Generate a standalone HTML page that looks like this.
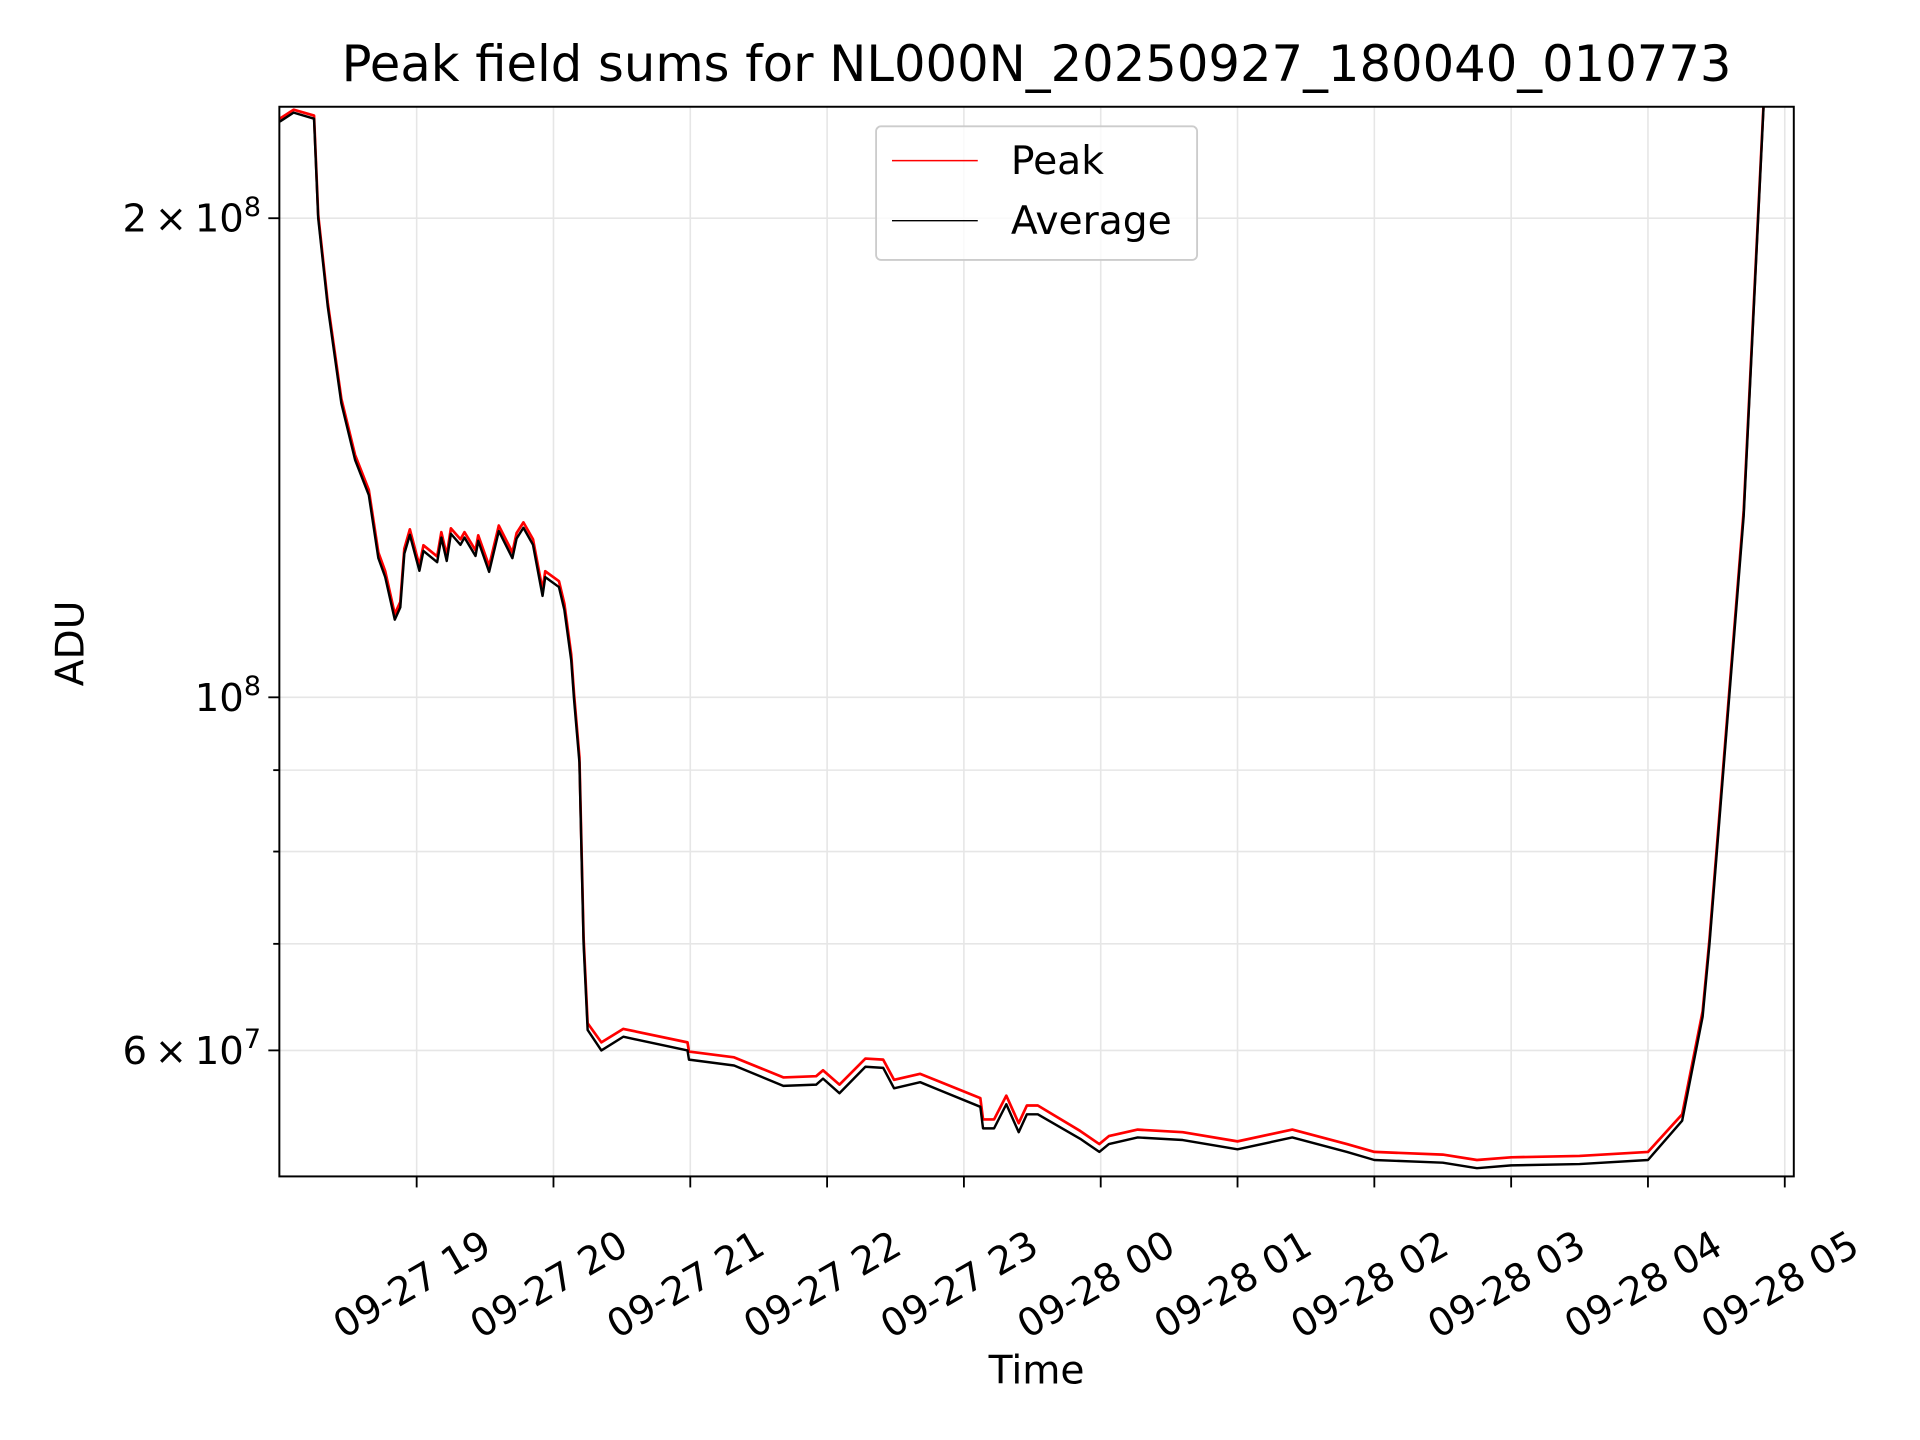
<!DOCTYPE html>
<html><head><meta charset="utf-8"><style>
html,body{margin:0;padding:0;background:#fff}
svg{display:block;font-family:"DejaVu Sans","Liberation Sans",sans-serif}
</style></head><body>
<svg id="chart" width="1920" height="1440" viewBox="0 0 1567 1175" xmlns="http://www.w3.org/2000/svg">
<rect width="1567" height="1175" fill="#fff"/>
<text x="846" y="66" font-size="40.5" text-anchor="middle">Peak field sums for NL000N_20250927_180040_010773</text>
<g id="grid"></g>
<g id="series"></g>
<rect x="228" y="87" width="1236" height="873" fill="none" stroke="#000" stroke-width="1.6"/>
<g id="axes"></g>
<text transform="translate(68,525) rotate(-90)" font-size="32" text-anchor="middle">ADU</text>
<text x="846" y="1129" font-size="32" text-anchor="middle">Time</text>
<g>
<rect x="715" y="103" width="262" height="109" rx="4" fill="#fff" fill-opacity="0.8" stroke="#ccc" stroke-width="1.5"/>
<line x1="728" y1="131" x2="798" y2="131" stroke="red" stroke-width="1.2"/>
<text x="825" y="142" font-size="32">Peak</text>
<line x1="728" y1="180" x2="798" y2="180" stroke="#000" stroke-width="1.2"/>
<text x="825" y="191" font-size="32">Average</text>
</g>
</svg>
<script>
// hours since 18:00 on 09-27
const times = [0,0.1,0.25,0.28,0.35,0.45,0.55,0.65,0.72,0.77,0.84,0.88,0.91,0.95,1.02,1.05,1.15,1.18,1.22,1.25,1.32,1.35,1.43,1.45,1.53,1.60,1.70,1.73,1.78,1.85,1.92,1.94,2.04,2.08,2.13,2.15,2.19,2.22,2.25,2.35,2.51,2.98,2.99,3.32,3.68,3.92,3.97,4.09,4.28,4.41,4.49,4.68,4.81,5.12,5.14,5.22,5.31,5.40,5.46,5.54,5.85,5.99,6.06,6.27,6.6,7.0,7.4,7.8,8.0,8.5,8.75,9.0,9.5,10.0,10.25,10.4,10.45,10.7,10.85];
// values in units of 1e7 ADU
const average = [23.0,23.3,23.1,20.0,17.6,15.3,14.1,13.4,12.23,11.9,11.19,11.39,12.31,12.65,12.01,12.36,12.16,12.6,12.18,12.67,12.47,12.6,12.27,12.54,11.99,12.72,12.23,12.58,12.78,12.47,11.58,11.9,11.73,11.35,10.55,9.97,9.1,7.0,6.18,6.0,6.12,6.0,5.92,5.87,5.70,5.71,5.76,5.64,5.86,5.85,5.68,5.73,5.67,5.53,5.36,5.36,5.55,5.33,5.47,5.47,5.28,5.18,5.24,5.29,5.27,5.2,5.29,5.18,5.12,5.1,5.06,5.08,5.09,5.12,5.42,6.3,7.0,13.0,24.0];
const peak = [23.1,23.4,23.2,20.1,17.7,15.4,14.2,13.5,12.33,12.0,11.28,11.48,12.4,12.75,12.1,12.46,12.26,12.7,12.28,12.77,12.57,12.7,12.37,12.64,12.09,12.82,12.33,12.68,12.88,12.57,11.68,12.0,11.83,11.45,10.64,10.05,9.17,7.06,6.24,6.07,6.19,6.07,5.99,5.94,5.77,5.78,5.83,5.71,5.93,5.92,5.75,5.8,5.74,5.6,5.43,5.43,5.62,5.4,5.54,5.54,5.34,5.24,5.3,5.35,5.33,5.26,5.35,5.24,5.18,5.16,5.12,5.14,5.15,5.18,5.47,6.35,7.05,13.1,24.1];
const xTickLabels = ["09-27 19","09-27 20","09-27 21","09-27 22","09-27 23","09-28 00","09-28 01","09-28 02","09-28 03","09-28 04","09-28 05"];
const yMajorTicks = [20,10,6];
const yMinorTicks = [7,8,9];

const NS="http://www.w3.org/2000/svg";
const X0=228,X1=1464,Y0=87,Y1=960;
const tMin=-0.0036, tMax=11.066;
const vMin=5.0, vMax=23.5;
function xs(t){return X0+(t-tMin)/(tMax-tMin)*(X1-X0);}
function ys(v){return Y1-(Math.log10(v)-Math.log10(vMin))/(Math.log10(vMax)-Math.log10(vMin))*(Y1-Y0);}
function mk(tag,attrs,parent){const e=document.createElementNS(NS,tag);for(const k in attrs)e.setAttribute(k,attrs[k]);parent.appendChild(e);return e;}
const grid=document.getElementById('grid'),axes=document.getElementById('axes'),ser=document.getElementById('series');

xTickLabels.forEach((lab,i)=>{
  const x=xs(i+1);
  const g=mk('line',{x1:x,x2:x,y1:Y0,y2:Y1,stroke:'#e6e6e6','stroke-width':1.3},grid);
  
  
  const tk=mk('line',{x1:x,x2:x,y1:Y1,y2:Y1+9,stroke:'#000','stroke-width':1.5},axes);
  
  
  const cx=x-4, cy=1048;
  const tx=mk('text',{x:cx,y:cy+11,'font-size':31.5,'text-anchor':'middle',transform:`rotate(-30 ${cx} ${cy})`},axes);
  tx.textContent=lab;
  
  
});
yMajorTicks.concat(yMinorTicks).forEach(v=>{
  const y=ys(v);
  const g=mk('line',{x1:X0,x2:X1,y1:y,y2:y,stroke:'#e6e6e6','stroke-width':1.3},grid);
  
  
  const major=yMajorTicks.includes(v);
  const tk=mk('line',{x1:X0-(major?9:5),x2:X0,y1:y,y2:y,stroke:'#000','stroke-width':1.5},axes);
  
  
});
function ylab(v,html){
  const y=ys(v);
  const t=mk('text',{x:X0-15,y:y+11,'font-size':31.5,'text-anchor':'end'},axes);
  t.innerHTML=html;
  
  
}
ylab(20,'2\u2009\u00d7\u200910<tspan dy="-13" font-size="22">8</tspan>');
ylab(10,'10<tspan dy="-13" font-size="22">8</tspan>');
ylab(6,'6\u2009\u00d7\u200910<tspan dy="-13" font-size="22">7</tspan>');

const clip=mk('clipPath',{id:'pc'},ser);
mk('rect',{x:X0,y:Y0,width:X1-X0,height:Y1-Y0},clip);
function line(vals,color,name,w){
  const d=vals.map((v,i)=>(i?'L':'M')+xs(times[i]).toFixed(1)+','+ys(v).toFixed(1)).join('');
  const p=mk('path',{d:d,fill:'none',stroke:color,'stroke-width':w,'stroke-linejoin':'round','clip-path':'url(#pc)'},ser);
  
  
}
line(peak,'red','peak-line',2.2);
line(average,'#000','average-line',2.0);
</script>
</body></html>
